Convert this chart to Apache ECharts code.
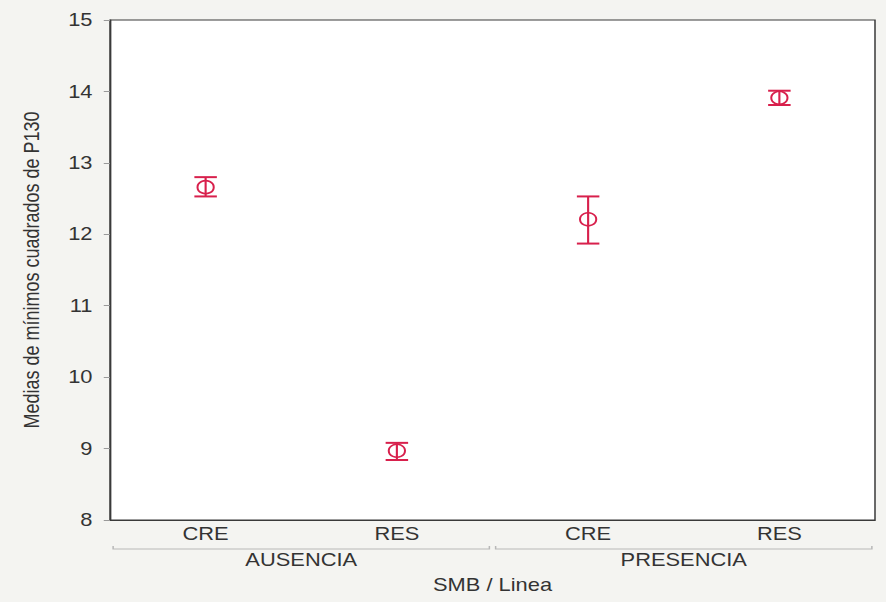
<!DOCTYPE html>
<html><head><meta charset="utf-8">
<script src="https://cdn.jsdelivr.net/npm/echarts@6/dist/echarts.min.js"></script>
<style>
html,body{margin:0;padding:0;background:#f4f4f1;overflow:hidden;}
#wrap{width:886px;height:602px;overflow:hidden;}
#c{width:709px;height:602px;transform:scaleX(1.25);transform-origin:0 0;}
</style>
</head><body><div id="wrap"><div id="c"></div></div>
<script>
const categories = ['CRE', 'RES', 'CRE', 'RES'];
const groups = ['AUSENCIA', 'PRESENCIA'];
const means = [12.66, 8.97, 12.21, 13.91];
const lower = [12.53, 8.84, 11.87, 13.81];
const upper = [12.80, 9.08, 12.53, 14.01];
const yTicks = [8, 9, 10, 11, 12, 13, 14, 15];

const red = '#d8204c';
const txt = '#333333';
const font = 'Liberation Sans, Arial, sans-serif';
const fs = 17.5;
const chart = echarts.init(document.getElementById('c'), null, { renderer: 'svg' });

chart.setOption({
  backgroundColor: '#f4f4f1',
  animation: false,
  grid: { left: 88, right: 9, top: 20, bottom: 82, show: true, backgroundColor: '#ffffff', borderColor: '#3a3a3a', borderWidth: 1.2 },
  xAxis: [
    {
      type: 'category', data: categories, position: 'bottom',
      axisLine: { show: true, lineStyle: { color: '#3a3a3a', width: 1.2 } },
      axisTick: { show: false },
      axisLabel: { color: txt, fontSize: fs, fontFamily: font, margin: 5 }
    },
    {
      type: 'category', data: groups, position: 'bottom',
      axisLine: { show: false }, axisTick: { show: false },
      axisLabel: { color: txt, fontSize: fs, fontFamily: font, margin: 31 },
      name: 'SMB / Linea', nameLocation: 'middle', nameGap: 56,
      nameTextStyle: { color: txt, fontSize: fs, fontFamily: font }
    }
  ],
  yAxis: {
    type: 'value', min: yTicks[0], max: yTicks[yTicks.length - 1], interval: 1,
    axisLine: { show: true, lineStyle: { color: '#3a3a3a', width: 1.2 } },
    axisTick: { show: true, length: 5, lineStyle: { color: '#999' } },
    axisLabel: { color: txt, fontSize: fs, fontFamily: font, margin: 14 },
    splitLine: { show: false },
    name: 'Medias de mínimos cuadrados de P130', nameLocation: 'middle', nameGap: 54,
    nameTextStyle: { color: txt, fontSize: 18, fontFamily: font }
  },
  series: [
    {
      type: 'custom', xAxisIndex: 0,
      data: categories.map((c, i) => [i, lower[i], upper[i]]),
      renderItem: function (params, api) {
        const x = api.value(0);
        const lo = api.coord([x, api.value(1)]);
        const hi = api.coord([x, api.value(2)]);
        const hw = 9;
        const st = { stroke: red, lineWidth: 2 };
        return {
          type: 'group', children: [
            { type: 'line', shape: { x1: lo[0], y1: lo[1], x2: hi[0], y2: hi[1] }, style: { stroke: red, lineWidth: 1.7 } },
            { type: 'line', shape: { x1: lo[0] - hw, y1: lo[1], x2: lo[0] + hw, y2: lo[1] }, style: st },
            { type: 'line', shape: { x1: hi[0] - hw, y1: hi[1], x2: hi[0] + hw, y2: hi[1] }, style: st }
          ]
        };
      },
      z: 3
    },
    {
      type: 'scatter', xAxisIndex: 0,
      data: means.map((v, i) => [i, v]),
      symbol: 'circle', symbolSize: 13,
      itemStyle: { color: 'rgba(255,255,255,0)', borderColor: red, borderWidth: 1.6, opacity: 1 },
      z: 4
    },
    {
      type: 'custom', xAxisIndex: 1, clip: false,
      data: groups.map((g, i) => [i, yTicks[0]]),
      renderItem: function (params, api) {
        const c = api.coord([api.value(0), api.value(1)]);
        const bw = api.size([1, 0])[0];
        const y = params.coordSys.y + params.coordSys.height + 29;
        const x1 = c[0] - bw / 2 + 2.5, x2 = c[0] + bw / 2 - 2.5;
        return {
          type: 'polyline', shape: { points: [[x1, y - 3], [x1, y], [x2, y], [x2, y - 3]] },
          style: { stroke: '#b8b8b8', lineWidth: 1.2, fill: 'none' }
        };
      }
    }
  ]
});
</script></body></html>
